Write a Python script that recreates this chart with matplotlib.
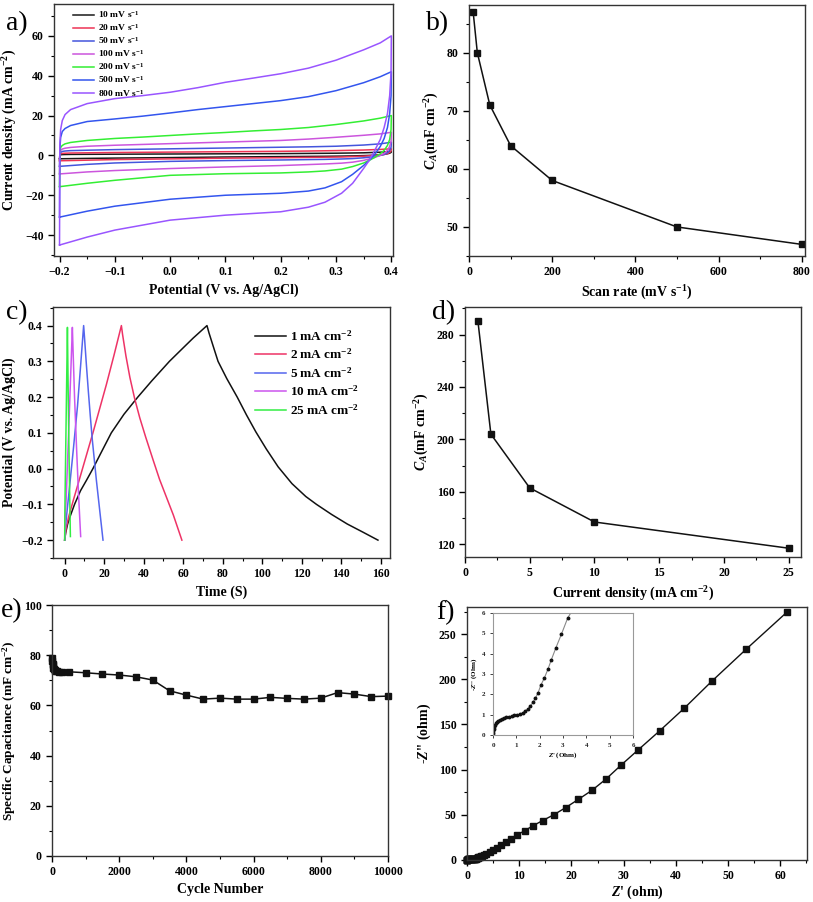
import matplotlib
matplotlib.use("Agg")
import matplotlib.pyplot as plt
from matplotlib.ticker import MultipleLocator

plt.rcParams['font.family'] = ['Liberation Serif', 'DejaVu Serif']
plt.rcParams['font.weight'] = 'bold'
plt.rcParams['mathtext.fontset'] = 'custom'
plt.rcParams['mathtext.rm'] = 'Liberation Serif:bold'
plt.rcParams['mathtext.it'] = 'Liberation Serif:italic:bold'
plt.rcParams['mathtext.bf'] = 'Liberation Serif:bold'

# -------------------------------------------------------
# data
# -------------------------------------------------------

# a) CV loops: shared potential grids for forward (upper) and reverse (lower) branch
cv_rates = ['10', '20', '50', '100', '200', '500', '800']
cv_colors = ['#1a1a1a', '#ee3355', '#4455dd', '#cc55dd', '#33ee33', '#3355ee', '#9955ff']
v_up = [-0.2, -0.1995, -0.198, -0.195, -0.19, -0.18, -0.15, -0.1, -0.05, 0.0,
        0.05, 0.1, 0.15, 0.2, 0.25, 0.3, 0.35, 0.38, 0.4]
v_dn = [0.4, 0.3995, 0.397, 0.393, 0.387, 0.38, 0.37, 0.36, 0.35, 0.33,
        0.31, 0.28, 0.25, 0.2, 0.1, 0.0, -0.1, -0.15, -0.2]
i_up_10 = [-1.7, 0, 0.3, 0.4, 0.45, 0.5, 0.55, 0.6, 0.65, 0.7, 0.75, 0.8, 0.85, 0.9, 1.0, 1.1, 1.3, 1.6, 2.0]
i_dn_10 = [2.0, 1.5, 1.1, 0.8, 0.5, 0.3, 0.15, 0, -0.1, -0.25, -0.35, -0.45, -0.5, -0.6, -0.8, -1.1, -1.35, -1.5, -1.7]
i_up_20 = [-2.7, 0.3, 0.8, 1.0, 1.1, 1.2, 1.3, 1.45, 1.55, 1.65, 1.75, 1.85, 1.95, 2.05, 2.2, 2.4, 2.7, 3.0, 3.3]
i_dn_20 = [3.3, 2.2, 1.5, 0.9, 0.5, 0.2, 0, -0.2, -0.4, -0.6, -0.8, -0.9, -1.0, -1.15, -1.4, -1.75, -2.1, -2.4, -2.7]
i_up_50 = [-5.5, 0.5, 1.5, 2, 2.2, 2.4, 2.6, 2.9, 3.1, 3.3, 3.5, 3.7, 3.9, 4.1, 4.3, 4.6, 5.2, 5.8, 6.6]
i_dn_50 = [6.6, 4, 2.5, 1.3, 0.5, 0, -0.5, -0.9, -1.2, -1.6, -1.8, -2.0, -2.1, -2.3, -2.6, -3.0, -3.8, -4.5, -5.5]
i_up_100 = [-9.3, 1, 2.5, 3.2, 3.6, 4.0, 4.6, 5.1, 5.5, 5.9, 6.3, 6.7, 7.1, 7.5, 8.2, 9.1, 10.1, 10.8, 11.6]
i_dn_100 = [11.6, 7, 4.5, 2.5, 1, 0, -1, -1.8, -2.5, -3.4, -3.9, -4.3, -4.6, -5.1, -5.8, -6.6, -7.6, -8.3, -9.3]
i_up_200 = [-15.7, 1.5, 4, 5, 5.8, 6.5, 7.5, 8.5, 9.2, 10, 10.8, 11.5, 12.3, 13, 14, 15.5, 17.3, 18.7, 20]
i_dn_200 = [20, 13, 8, 5, 2.5, 0.8, -1, -2.5, -3.8, -5.6, -6.9, -7.8, -8.3, -8.8, -9.2, -10, -12.5, -14, -15.7]
i_up_500 = [-31, 3, 9, 12, 13.5, 15, 17, 18.3, 19.7, 21.3, 23, 24.5, 26, 27.5, 29.5, 32.5, 36.5, 39.5, 42]
i_dn_500 = [42, 30, 21, 14, 8.5, 4.5, 0.5, -2.5, -5, -9.5, -13.2, -16.3, -17.9, -19, -20, -22, -25.5, -28, -31]
i_up_800 = [-45, 5, 13, 17.5, 20.5, 23, 26, 28.5, 30, 31.7, 34, 36.7, 38.8, 41, 43.8, 47.8, 53, 56.5, 60]
i_dn_800 = [60, 42, 30, 21, 14, 8, 2.5, -2.5, -6.5, -14, -19, -23.5, -26, -28.3, -30, -32.5, -37.5, -41, -45]

# b) areal capacitance vs scan rate
scan_rate = [10, 20, 50, 100, 200, 500, 800]
ca_scan = [87, 80, 71, 64, 58, 50, 47]

# c) GCD curves
gcd_labels = ['1', '2', '5', '10', '25']
gcd_colors = ['#111111', '#ee3366', '#5566ee', '#cc55ee', '#33ee44']
t_1 = [0, 0.5, 1.5, 3, 5, 8, 11, 14.3, 18, 23.6, 30, 37, 44, 53, 60, 65, 69, 72,
       73, 75, 77.6, 82, 87.3, 92, 96.7, 102, 108, 115, 122, 127.4, 135, 143, 151, 158.5]
u_1 = [-0.2, -0.18, -0.155, -0.13, -0.1, -0.062, -0.033, 0.0, 0.04, 0.1, 0.152, 0.2, 0.245, 0.3, 0.338, 0.365, 0.385, 0.4,
       0.38, 0.345, 0.3, 0.252, 0.2, 0.15, 0.103, 0.055, 0.005, -0.042, -0.078, -0.1, -0.128, -0.155, -0.178, -0.2]
t_2 = [0, 0.8, 2, 4.2, 9.3, 14.3, 21.1, 25, 28.7,
       29.3, 31, 33, 35.4, 38, 41, 44.7, 48, 51.5, 55, 59.3]
u_2 = [-0.2, -0.165, -0.135, -0.092, 0.005, 0.1, 0.235, 0.318, 0.4,
       0.375, 0.315, 0.255, 0.196, 0.142, 0.088, 0.025, -0.03, -0.08, -0.13, -0.2]
t_5 = [0, 0.3, 1, 2.5, 4.5, 6.5, 8.1, 9.6,
       10, 11, 12, 13, 14, 15, 16, 17, 18, 19.4]
u_5 = [-0.2, -0.17, -0.13, -0.05, 0.06, 0.175, 0.29, 0.4,
       0.37, 0.29, 0.215, 0.145, 0.08, 0.025, -0.03, -0.08, -0.13, -0.2]
t_10 = [0, 0.2, 0.8, 2, 3.1, 3.9, 4.2, 5, 6, 7, 8.1]
u_10 = [-0.2, -0.15, -0.08, 0.1, 0.27, 0.395, 0.34, 0.2, 0.06, -0.07, -0.19]
t_25 = [0, 0.1, 0.4, 0.9, 1.4, 1.6, 2, 2.5, 2.9]
u_25 = [-0.2, -0.12, 0.0, 0.2, 0.395, 0.3, 0.12, -0.06, -0.19]

# d) areal capacitance vs current density
cur_density = [1, 2, 5, 10, 25]
ca_cur = [290, 204, 163, 137, 117]

# e) cycling stability
cycles = [0, 10, 20, 30, 40, 50, 75, 100, 150, 200, 300, 500, 1000, 1500, 2000, 2500, 3000,
          3500, 4000, 4500, 5000, 5500, 6000, 6500, 7000, 7500, 8000, 8500, 9000, 9500, 10000]
cap_cyc = [78.7, 77.5, 76.5, 76, 75, 74.5, 74, 73.8, 73.6, 73.5, 73.4, 73.4, 73, 72.5, 72.1, 71.4, 70.1,
           65.8, 64.1, 62.5, 62.9, 62.5, 62.5, 63.2, 62.8, 62.5, 62.9, 65.1, 64.5, 63.5, 63.7]

# f) Nyquist plot
z_re = [0, 0.01, 0.02, 0.03, 0.05, 0.08, 0.12, 0.17, 0.23, 0.3, 0.38, 0.47, 0.57, 0.68, 0.8,
        0.92, 1.04, 1.16, 1.27, 1.38, 1.49, 1.6, 1.71, 1.82, 1.93, 2.05, 2.2, 2.36, 2.5, 2.7,
        2.93, 3.2, 3.7, 4.35, 5.0, 5.8, 6.6, 7.5, 8.5, 9.6, 11.1, 12.6, 14.5, 16.6, 18.9, 21.3,
        23.9, 26.6, 29.5, 32.8, 36.9, 41.6, 46.9, 53.4, 61.2]
z_im = [0, 0.1, 0.2, 0.3, 0.4, 0.5, 0.58, 0.65, 0.71, 0.76, 0.8, 0.84, 0.87, 0.9, 0.93,
        0.96, 0.99, 1.03, 1.09, 1.17, 1.28, 1.42, 1.6, 1.82, 2.07, 2.45, 2.8, 3.25, 3.7, 4.3,
        4.95, 5.75, 6.7, 8.5, 10.7, 13.3, 16.3, 19.6, 23.3, 27.8, 32.6, 37.8, 43.7, 50, 58, 67,
        77, 89.5, 105, 122, 143, 168, 198, 233, 274]

# -------------------------------------------------------
# figure
# -------------------------------------------------------
W, H = 813, 902
fig = plt.figure(figsize=(W / 100, H / 100), dpi=100)


def box(l, t, r, b):
    return [l / W, 1 - b / H, (r - l) / W, (b - t) / H]


def style(ax, xmaj, xmin, ymaj, ymin, size=8.5):
    ax.xaxis.set_major_locator(MultipleLocator(xmaj))
    ax.xaxis.set_minor_locator(MultipleLocator(xmin))
    ax.yaxis.set_major_locator(MultipleLocator(ymaj))
    ax.yaxis.set_minor_locator(MultipleLocator(ymin))
    ax.tick_params(which='major', direction='out', length=4, width=1, labelsize=size,
                   top=False, right=False)
    ax.tick_params(which='minor', direction='out', length=2, width=0.8, top=False, right=False)
    for s in ax.spines.values():
        s.set_linewidth(1.0)
        s.set_color('#333333')
    for lab in ax.get_xticklabels() + ax.get_yticklabels():
        lab.set_fontweight('bold')


def panel_letter(x, y, txt):
    fig.text(x / W, 1 - y / H, txt, fontsize=20, fontweight='normal', va='center', ha='left')


# a) CV
ax = fig.add_axes(box(54, 4, 393, 256))
ups = [i_up_10, i_up_20, i_up_50, i_up_100, i_up_200, i_up_500, i_up_800]
dns = [i_dn_10, i_dn_20, i_dn_50, i_dn_100, i_dn_200, i_dn_500, i_dn_800]
for rate, col, up, dn in zip(cv_rates, cv_colors, ups, dns):
    ax.plot(v_up + v_dn, up + dn, color=col, lw=1.1, label=rate + r' mV s$^{-1}$')
ax.set_xlim(-0.21, 0.403)
ax.set_ylim(-50.5, 76)
style(ax, 0.1, 0.05, 20, 10)
ax.set_xlabel('Potential (V vs. Ag/AgCl)', fontsize=10, fontweight='bold')
ax.set_ylabel(r'Current density (mA cm$^{-2}$)', fontsize=10, fontweight='bold')
ax.legend(loc='upper left', bbox_to_anchor=(0.044, 0.995), frameon=False,
          handlelength=2.3, labelspacing=0.22, borderaxespad=0, handletextpad=0.35,
          prop={'weight': 'bold', 'size': 6.8})
panel_letter(6, 24, 'a)')

# b) C_A vs scan rate
ax = fig.add_axes(box(469, 5, 805, 256))
ax.plot(scan_rate, ca_scan, color='#111111', lw=1.1, marker='s', ms=4.5, mfc='#111111')
ax.set_xlim(0, 808)
ax.set_ylim(45, 88.2)
style(ax, 200, 100, 10, 5)
ax.set_xlabel(r'Scan rate (mV s$^{-1}$)', fontsize=10, fontweight='bold')
ax.set_ylabel(r'$\mathit{C}_{\mathit{A}}$(mF cm$^{-2}$)', fontsize=10, fontweight='bold')
panel_letter(426, 24, 'b)')

# c) GCD
ax = fig.add_axes(box(53, 307, 390, 558))
for lab, col, t, u in zip(gcd_labels, gcd_colors, [t_1, t_2, t_5, t_10, t_25], [u_1, u_2, u_5, u_10, u_25]):
    ax.plot(t, u, color=col, lw=1.1, label=lab + r' mA cm$^{-2}$')
ax.set_xlim(-5.9, 164.6)
ax.set_ylim(-0.25, 0.452)
style(ax, 20, 10, 0.1, 0.05)
ax.set_xlabel('Time (S)', fontsize=10, fontweight='bold')
ax.set_ylabel('Potential (V vs. Ag/AgCl)', fontsize=10, fontweight='bold')
ax.legend(loc='upper left', bbox_to_anchor=(0.585, 0.935), frameon=False, borderaxespad=0,
          handlelength=2.3, labelspacing=0.3, handletextpad=0.3,
          prop={'weight': 'bold', 'size': 9.5})
panel_letter(6, 313, 'c)')

# d) C_A vs current density
ax = fig.add_axes(box(465, 307, 801, 557))
ax.plot(cur_density, ca_cur, color='#111111', lw=1.1, marker='s', ms=4.5, mfc='#111111')
ax.set_xlim(0, 25.95)
ax.set_ylim(110.3, 301)
style(ax, 5, 2.5, 40, 20)
ax.set_xlabel(r'Current density (mA cm$^{-2}$)', fontsize=10, fontweight='bold')
ax.set_ylabel(r'$\mathit{C}_{\mathit{A}}$(mF cm$^{-2}$)', fontsize=10, fontweight='bold')
panel_letter(432, 313, 'd)')

# e) cycling
ax = fig.add_axes(box(52, 605, 388, 856))
ax.plot(cycles, cap_cyc, color='#111111', lw=1.1, marker='s', ms=5, mfc='#111111', clip_on=False)
ax.set_xlim(0, 10000)
ax.set_ylim(0, 100)
style(ax, 2000, 1000, 20, 10)
ax.set_xlabel('Cycle Number', fontsize=10, fontweight='bold', labelpad=3)
ax.set_ylabel(r'Specific Capacitance (mF cm$^{-2}$)', fontsize=9.5, fontweight='bold')
panel_letter(1, 611, 'e)')

# f) Nyquist
ax = fig.add_axes(box(467, 607, 807, 860))
ax.plot(z_re, z_im, color='#111111', lw=1.0, marker='s', ms=5, mfc='#111111', clip_on=False)
ax.set_xlim(0, 65.1)
ax.set_ylim(0, 280)
style(ax, 10, 5, 50, 25)
ax.set_xlabel(r"$\mathit{Z}$' (ohm)", fontsize=10, fontweight='bold', labelpad=1)
ax.set_ylabel(r"-$\mathit{Z}$'' (ohm)", fontsize=10, fontweight='bold')
panel_letter(436, 613, 'f)')

# inset of f
axi = fig.add_axes(box(493, 613, 633, 735))
axi.plot(z_re, z_im, color='#888888', lw=0.8, marker='o', ms=1.8, mfc='#111111', mec='#111111')
axi.set_xlim(0, 6)
axi.set_ylim(0, 6)
axi.xaxis.set_major_locator(MultipleLocator(1))
axi.yaxis.set_major_locator(MultipleLocator(1))
axi.tick_params(direction='out', length=2, width=0.6, labelsize=5, top=False, right=False,
                colors='#222222')
for s in axi.spines.values():
    s.set_color('#999999')
    s.set_linewidth(0.8)
axi.set_xlabel(r"$\mathit{Z}$' (Ohm)", fontsize=5, fontweight='bold', labelpad=2)
axi.set_ylabel(r"-$\mathit{Z}$'' (Ohm)", fontsize=5, fontweight='bold', labelpad=2)

fig.savefig('out.png', dpi=100)
